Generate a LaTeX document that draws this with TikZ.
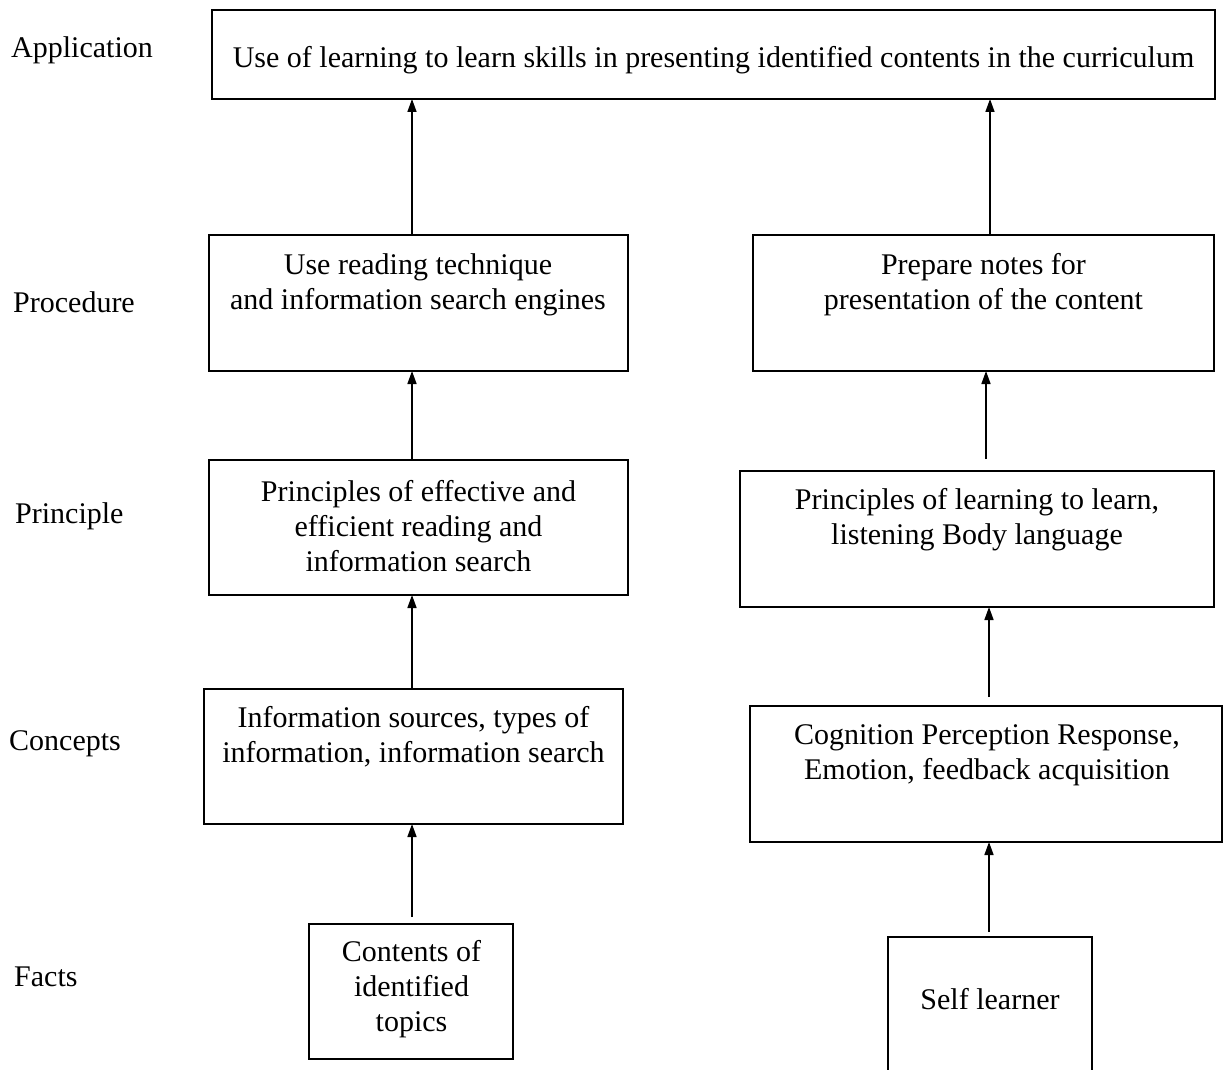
\documentclass[tikz,border=0pt]{standalone}
\usepackage{fontspec}
\setmainfont{Liberation Serif}
\usetikzlibrary{arrows.meta}
\begin{document}
\begin{tikzpicture}[x=1pt,y=-1pt,
  box/.style={draw, line width=2.2pt, rectangle, inner sep=0pt, outer sep=0pt},
  txt/.style={anchor=north, inner sep=0pt, align=center, font=\fontsize{30}{35}\selectfont},
  lvl/.style={anchor=base west, inner sep=0pt, font=\fontsize{30}{35}\selectfont},
  arr/.style={line width=1.6pt, -{Triangle[length=13pt,width=9pt]}}
]
\useasboundingbox (0,0) rectangle (1224,1070);
\clip (0,0) rectangle (1224,1070);

% level labels
\node[lvl] (lApp)  at (11,58)  {Application};
\node[lvl] (lProc) at (13,312) {Procedure};
\node[lvl] (lPrin) at (15,523) {Principle};
\node[lvl] (lCon)  at (9,750)  {Concepts};
\node[lvl] (lFact) at (14,986) {Facts};

% boxes
\node[box, minimum width=1003pt, minimum height=89pt]  (app)   at (713.5,54.5) {};
\node[box, minimum width=419pt,  minimum height=136pt] (procL) at (418.5,303)  {};
\node[box, minimum width=461pt,  minimum height=136pt] (procR) at (983.5,303)  {};
\node[box, minimum width=419pt,  minimum height=135pt] (prinL) at (418.5,527.5){};
\node[box, minimum width=474pt,  minimum height=136pt] (prinR) at (977,539)    {};
\node[box, minimum width=419pt,  minimum height=135pt] (conL)  at (413.5,756.5){};
\node[box, minimum width=472pt,  minimum height=136pt] (conR)  at (986,774)    {};
\node[box, minimum width=204pt,  minimum height=135pt] (factL) at (411,991.5)  {};
\node[box, minimum width=204pt,  minimum height=163pt] (factR) at (990,1018.5) {};

% box texts
\node[txt] (appT)   at (713.5,46) {Use of learning to learn skills in presenting identified contents in the curriculum};
\node[txt] (procLT) at (418,253)  {Use reading technique\\and information search engines};
\node[txt] (procRT) at (983.5,253){Prepare notes for\\presentation of the content};
\node[txt] (prinLT) at (418.5,480){Principles of effective and\\efficient reading and\\information search};
\node[txt] (prinRT) at (977,488)  {Principles of learning to learn,\\listening Body language};
\node[txt] (conLT)  at (413.5,706){Information sources, types of\\information, information search};
\node[txt] (conRT)  at (987,724)  {Cognition Perception Response,\\Emotion, feedback acquisition};
\node[txt] (factLT) at (411.5,940){Contents of\\identified\\topics};
\node[txt] (factRT) at (990,988)  {Self learner};

% arrow columns
\coordinate (xL)  at (412,0);
\coordinate (xR0) at (990,0);
\coordinate (xR1) at (986,0);
\coordinate (xR2) at (989,0);

% connectors
\draw[arr] (xL |- procL.north) -- (xL |- app.south);
\draw[arr] (xR0 |- procR.north) -- (xR0 |- app.south);
\draw[arr] (xL |- prinL.north) -- (xL |- procL.south);
\draw[arr, shorten <=12pt] (xR1 |- prinR.north) -- (xR1 |- procR.south);
\draw[arr] (xL |- conL.north) -- (xL |- prinL.south);
\draw[arr, shorten <=9pt] (xR2 |- conR.north) -- (xR2 |- prinR.south);
\draw[arr, shorten <=7pt] (xL |- factL.north) -- (xL |- conL.south);
\draw[arr, shorten <=5pt] (xR2 |- factR.north) -- (xR2 |- conR.south);
\end{tikzpicture}
\end{document}
